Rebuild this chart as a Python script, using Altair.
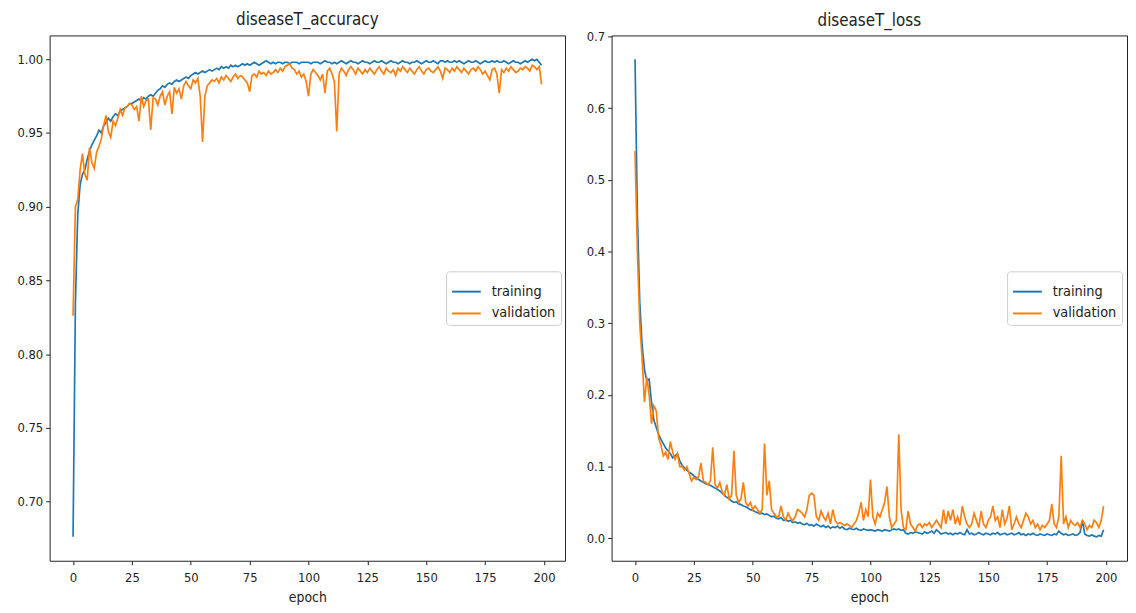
import altair as alt
import pandas as pd

EPOCHS = list(range(200))
SERIES = ["training", "validation"]
COLORS = ["#1f77b4", "#ff7f0e"]
X_TICKS = [0, 25, 50, 75, 100, 125, 150, 175, 200]
ACC_TICKS = [0.70, 0.75, 0.80, 0.85, 0.90, 0.95, 1.00]
LOSS_TICKS = [0.0, 0.1, 0.2, 0.3, 0.4, 0.5, 0.6, 0.7]

TRAIN_ACC = [
    0.676, 0.835, 0.895, 0.915, 0.922, 0.925, 0.932, 0.938, 0.942, 0.945,
    0.948, 0.952, 0.950, 0.955, 0.957, 0.960, 0.958, 0.961, 0.963, 0.962,
    0.965, 0.966, 0.967, 0.968, 0.970, 0.970, 0.971, 0.972, 0.973, 0.972,
    0.974, 0.973, 0.975, 0.976, 0.975, 0.977, 0.979, 0.980, 0.982, 0.981,
    0.983, 0.984, 0.983, 0.985, 0.986, 0.985, 0.986, 0.987, 0.988, 0.987,
    0.989, 0.990, 0.991, 0.990, 0.991, 0.992, 0.991, 0.992, 0.993, 0.992,
    0.993, 0.994, 0.993, 0.995, 0.994, 0.995, 0.994, 0.996, 0.995, 0.996,
    0.995, 0.996, 0.997, 0.996, 0.997, 0.996, 0.997, 0.998, 0.997, 0.996,
    0.997, 0.998, 0.999, 0.998, 0.997, 0.998, 0.997, 0.998, 0.998, 0.997,
    0.998, 0.998, 0.997, 0.998, 0.998, 0.998, 0.997, 0.998, 0.998, 0.998,
    0.998, 0.997, 0.998, 0.998, 0.998, 0.997, 0.998, 0.999, 0.998, 0.998,
    0.997, 0.998, 0.997, 0.998, 0.999, 0.998, 0.997, 0.998, 0.999, 0.998,
    0.998, 0.997, 0.998, 0.999, 0.998, 0.998, 0.997, 0.998, 0.999, 0.998,
    0.998, 0.999, 0.998, 0.997, 0.998, 0.999, 0.998, 0.998, 0.997, 0.998,
    0.999, 0.998, 0.998, 0.997, 0.998, 0.998, 0.999, 0.998, 0.997, 0.998,
    0.999, 0.998, 0.998, 0.999, 0.998, 0.997, 0.999, 0.999, 0.998, 0.999,
    0.998, 0.998, 0.999, 0.998, 0.999, 0.998, 0.997, 0.998, 0.999, 0.998,
    0.998, 0.999, 0.998, 0.997, 0.998, 0.999, 0.998, 0.998, 0.999, 0.998,
    0.999, 0.998, 0.998, 0.999, 0.998, 0.997, 0.998, 0.999, 0.998, 0.998,
    0.997, 0.998, 0.999, 0.998, 0.999, 1.000, 0.999, 1.000, 0.998, 0.996,
]

VAL_ACC = [
    0.826, 0.900, 0.905, 0.925, 0.936, 0.922, 0.918, 0.940, 0.930, 0.926,
    0.937, 0.941, 0.946, 0.955, 0.962, 0.951, 0.947, 0.958, 0.955, 0.960,
    0.966, 0.962, 0.967, 0.968, 0.970, 0.969, 0.966, 0.968, 0.958, 0.975,
    0.968, 0.972, 0.973, 0.952, 0.974, 0.973, 0.969, 0.975, 0.978, 0.969,
    0.975, 0.978, 0.963, 0.981, 0.977, 0.980, 0.973, 0.982, 0.985, 0.982,
    0.980, 0.986, 0.984, 0.987, 0.975, 0.944, 0.975, 0.982, 0.984, 0.986,
    0.985, 0.987, 0.984, 0.988, 0.986, 0.989, 0.987, 0.985, 0.988, 0.990,
    0.987, 0.989, 0.988, 0.986, 0.984, 0.978, 0.989, 0.990, 0.988, 0.992,
    0.990, 0.991, 0.989, 0.992, 0.990, 0.991, 0.993, 0.991, 0.994, 0.992,
    0.995, 0.996, 0.997, 0.994, 0.993, 0.990, 0.992, 0.988, 0.990, 0.985,
    0.975, 0.990, 0.993, 0.991, 0.989, 0.986, 0.990, 0.977, 0.992, 0.994,
    0.990, 0.985, 0.951, 0.990, 0.994, 0.992, 0.989, 0.993, 0.995, 0.993,
    0.990, 0.994, 0.992, 0.990, 0.993, 0.991, 0.994, 0.992, 0.990, 0.993,
    0.995, 0.992, 0.990, 0.994, 0.992, 0.991, 0.993, 0.989, 0.994, 0.992,
    0.995, 0.993, 0.991, 0.994, 0.992, 0.990, 0.993, 0.995, 0.992, 0.990,
    0.993, 0.994, 0.992, 0.991, 0.993, 0.995, 0.992, 0.987, 0.994, 0.993,
    0.991, 0.994, 0.992, 0.995, 0.993, 0.991, 0.994, 0.992, 0.990, 0.993,
    0.994, 0.992, 0.995, 0.993, 0.990, 0.992, 0.989, 0.986, 0.993, 0.994,
    0.990, 0.977, 0.993, 0.991, 0.994, 0.992, 0.995, 0.993, 0.991, 0.992,
    0.994, 0.993, 0.995, 0.994, 0.992, 0.996, 0.995, 0.993, 0.995, 0.983,
]

TRAIN_LOSS = [
    0.668, 0.450, 0.330, 0.270, 0.235, 0.220, 0.222, 0.190, 0.165, 0.155,
    0.145, 0.138, 0.132, 0.126, 0.122, 0.118, 0.112, 0.115, 0.118, 0.108,
    0.102, 0.098, 0.095, 0.092, 0.090, 0.087, 0.085, 0.082, 0.080, 0.078,
    0.076, 0.075, 0.074, 0.072, 0.070, 0.068, 0.066, 0.063, 0.060, 0.057,
    0.055, 0.052, 0.050, 0.051, 0.048, 0.047, 0.045, 0.044, 0.042, 0.040,
    0.039, 0.037, 0.036, 0.034, 0.035, 0.033, 0.034, 0.032, 0.030, 0.031,
    0.028, 0.027, 0.029, 0.025, 0.026, 0.024, 0.025, 0.022, 0.023, 0.021,
    0.022, 0.020, 0.019, 0.021, 0.018, 0.019, 0.017, 0.020, 0.018, 0.016,
    0.018, 0.015, 0.017, 0.014, 0.016, 0.015, 0.017, 0.014, 0.016, 0.013,
    0.012, 0.014, 0.013, 0.012, 0.014, 0.012, 0.011, 0.013, 0.012, 0.011,
    0.012, 0.011, 0.010, 0.012, 0.011, 0.010, 0.012, 0.011, 0.010, 0.012,
    0.013, 0.012, 0.013, 0.011, 0.012, 0.007, 0.006, 0.008, 0.007, 0.009,
    0.008, 0.007, 0.006, 0.009, 0.007, 0.008, 0.010, 0.007, 0.012, 0.009,
    0.006, 0.007, 0.008, 0.006, 0.007, 0.005, 0.007, 0.006, 0.008, 0.006,
    0.005, 0.012, 0.006, 0.007, 0.005, 0.006, 0.008, 0.006, 0.005, 0.007,
    0.006, 0.005, 0.007, 0.006, 0.008, 0.005, 0.006, 0.007, 0.005, 0.006,
    0.007, 0.005, 0.006, 0.008, 0.005, 0.006, 0.004, 0.006, 0.005, 0.007,
    0.005, 0.004, 0.006, 0.005, 0.004, 0.006, 0.005, 0.004, 0.006, 0.005,
    0.010, 0.007, 0.005, 0.006, 0.004, 0.005, 0.006, 0.004, 0.005, 0.008,
    0.025, 0.006, 0.004, 0.003, 0.005, 0.003, 0.002, 0.004, 0.003, 0.012,
]

VAL_LOSS = [
    0.540, 0.400, 0.300, 0.250, 0.190, 0.225, 0.200, 0.160, 0.185, 0.178,
    0.140, 0.130, 0.115, 0.120, 0.110, 0.135, 0.120, 0.110, 0.118, 0.100,
    0.100, 0.095, 0.100, 0.090, 0.080, 0.085, 0.082, 0.086, 0.105, 0.080,
    0.078, 0.075, 0.080, 0.127, 0.075, 0.070, 0.078, 0.065, 0.060, 0.075,
    0.055, 0.060, 0.122, 0.060, 0.050, 0.055, 0.078, 0.050, 0.045, 0.050,
    0.040, 0.045, 0.040, 0.035, 0.040, 0.132, 0.060, 0.080, 0.040, 0.035,
    0.030, 0.030, 0.045, 0.030, 0.025, 0.035, 0.028, 0.025, 0.030, 0.040,
    0.038, 0.035, 0.030, 0.040, 0.060, 0.063, 0.060, 0.030, 0.025, 0.038,
    0.030, 0.025, 0.035, 0.020, 0.040, 0.025, 0.020, 0.022, 0.020, 0.018,
    0.020, 0.018, 0.015, 0.020, 0.025, 0.035, 0.050, 0.025, 0.040, 0.030,
    0.082, 0.030, 0.020, 0.035, 0.030, 0.040, 0.050, 0.072, 0.030, 0.015,
    0.020, 0.025, 0.145, 0.040, 0.015, 0.012, 0.038, 0.020, 0.015, 0.010,
    0.018, 0.020, 0.015, 0.020, 0.018, 0.022, 0.015, 0.020, 0.025, 0.020,
    0.015, 0.040, 0.020, 0.038, 0.025, 0.040, 0.020, 0.030, 0.018, 0.045,
    0.030, 0.020, 0.015, 0.020, 0.035, 0.025, 0.015, 0.038, 0.020, 0.015,
    0.025, 0.030, 0.045, 0.025, 0.030, 0.015, 0.040, 0.020, 0.028, 0.045,
    0.012, 0.020, 0.030, 0.020, 0.015, 0.025, 0.035, 0.030, 0.020, 0.025,
    0.015, 0.020, 0.012, 0.018, 0.015, 0.020, 0.025, 0.048, 0.020, 0.015,
    0.030, 0.115, 0.020, 0.030, 0.015, 0.025, 0.020, 0.018, 0.022, 0.015,
    0.025, 0.020, 0.012, 0.018, 0.015, 0.025, 0.022, 0.015, 0.025, 0.045,
]

TICK_FONT = "Liberation Sans Narrow, DejaVu Sans Condensed, sans-serif"
TEXT_FONT = "DejaVu Sans Condensed, sans-serif"
INK = "#222222"


def frame(train, val):
    return pd.DataFrame({
        "epoch": EPOCHS + EPOCHS,
        "value": train + val,
        "series": ["training"] * len(train) + ["validation"] * len(val),
    })


def margin_domain(train, val):
    lo = min(train + val)
    hi = max(train + val)
    pad = (hi - lo) * 0.05
    return [lo - pad, hi + pad]


def panel(df, title, ydomain, yticks, yfmt, extent, legend_x, title_offset):
    x = alt.X(
        "epoch:Q",
        scale=alt.Scale(domain=[-9.95, 208.95], nice=False, zero=False),
        axis=alt.Axis(values=X_TICKS, format="d", title="epoch", labelFlush=False),
    )
    y = alt.Y(
        "value:Q",
        scale=alt.Scale(domain=ydomain, nice=False, zero=False),
        axis=alt.Axis(values=yticks, format=yfmt, title=None,
                      minExtent=extent, maxExtent=extent),
    )
    color = alt.Color(
        "series:N",
        scale=alt.Scale(domain=SERIES, range=COLORS),
        legend=alt.Legend(title=None, orient="none", legendX=legend_x, legendY=238),
    )
    base = alt.Chart(df).mark_line(strokeWidth=1.7, clip=True).encode(x=x, y=y, color=color)
    train = base.transform_filter(alt.datum.series == "training")
    val = base.transform_filter(alt.datum.series == "validation")
    return alt.layer(train, val).properties(
        width=520, height=530, title=alt.TitleParams(title, offset=title_offset)
    )


left = panel(frame(TRAIN_ACC, VAL_ACC), "diseaseT_accuracy",
             margin_domain(TRAIN_ACC, VAL_ACC), ACC_TICKS, ".2f", 41, 400, 6.5)
right = panel(frame(TRAIN_LOSS, VAL_LOSS), "diseaseT_loss",
              margin_domain(TRAIN_LOSS, VAL_LOSS), LOSS_TICKS, ".1f", 40, 399, 0)

chart = (
    alt.hconcat(left, right, spacing=5)
    .resolve_scale(color="independent", x="independent", y="independent")
    .resolve_legend(color="independent")
    .properties(padding={"left": 0, "top": 0, "right": 0, "bottom": 0})
    .configure_view(stroke=INK, strokeWidth=1)
    .configure_axis(
        grid=False, domain=False,
        labelFont=TICK_FONT, labelFontSize=13, labelColor=INK, labelPadding=3,
        tickColor=INK, tickSize=4, tickWidth=1,
        titleFont=TEXT_FONT, titleFontSize=14, titleFontWeight="normal",
        titleColor=INK, titlePadding=3,
    )
    .configure_axisX(labelPadding=7, titlePadding=6)
    .configure_title(font=TEXT_FONT, fontSize=17, fontWeight="normal",
                     color=INK, anchor="middle")
    .configure_legend(
        labelFont=TEXT_FONT, labelFontSize=14.5, labelColor=INK,
        symbolType="stroke", symbolSize=841, symbolStrokeWidth=2,
        labelOffset=10, rowPadding=0, padding=5,
        strokeColor="#cccccc", fillColor="rgba(255,255,255,0.8)", cornerRadius=3,
    )
)

chart.save("out.html", embed_options={"renderer": "svg", "actions": False})
